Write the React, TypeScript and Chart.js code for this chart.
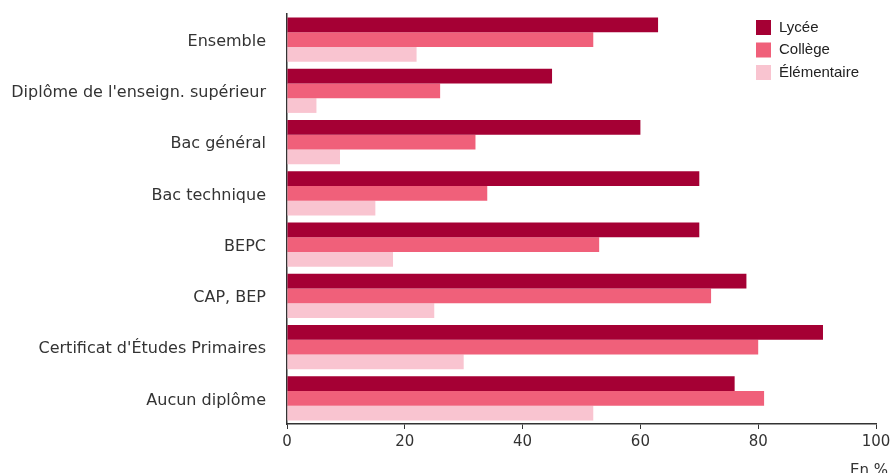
import React, { useEffect, useRef } from "react";
import { Chart, registerables } from "chart.js";

Chart.register(...registerables);

const categories = [
  "Ensemble",
  "Diplôme de l'enseign. supérieur",
  "Bac général",
  "Bac technique",
  "BEPC",
  "CAP, BEP",
  "Certificat d'Études Primaires",
  "Aucun diplôme",
];
const lycee = [63, 45, 60, 70, 70, 78, 91, 76];
const college = [52, 26, 32, 34, 53, 72, 80, 81];
const elementaire = [22, 5, 9, 15, 18, 25, 30, 52];
const seriesNames = ["Lycée", "Collège", "Élémentaire"];
const seriesColors = ["#A50034", "#F0607A", "#F9C4D0"];
const xTicks = [0, 20, 40, 60, 80, 100];
const unitLabel = "En %";

const customLegend = {
  id: "customLegend",
  afterDraw(chart: any) {
    const ctx = chart.ctx;
    ctx.save();
    chart.data.datasets.forEach((ds: any, i: number) => {
      const x = 756;
      const y = 20 + i * 22.5;
      ctx.fillStyle = ds.backgroundColor;
      ctx.fillRect(x, y, 15, 15);
      ctx.fillStyle = "#222";
      ctx.font = "15px 'Liberation Sans', Arial, sans-serif";
      ctx.textBaseline = "middle";
      ctx.textAlign = "left";
      ctx.fillText(ds.label, x + 23, y + 7.5);
    });
    ctx.fillStyle = "#333";
    ctx.font = "15px 'DejaVu Sans', Verdana, sans-serif";
    ctx.textAlign = "left";
    ctx.textBaseline = "alphabetic";
    ctx.fillText(unitLabel, 850, 475);
    ctx.restore();
  },
};

export default function App() {
  const ref = useRef<HTMLCanvasElement | null>(null);
  useEffect(() => {
    if (!ref.current) return;
    const data = [lycee, college, elementaire];
    const chart = new Chart(ref.current, {
      type: "bar",
      data: {
        labels: categories,
        datasets: seriesNames.map((name, i) => ({
          label: name,
          data: data[i],
          backgroundColor: seriesColors[i],
          borderWidth: 0,
          barPercentage: 1,
          categoryPercentage: 0.86,
        })),
      },
      options: {
        indexAxis: "y",
        animation: false,
        responsive: false,
        maintainAspectRatio: false,
        layout: { padding: { top: 14, right: 17, bottom: 0, left: 0 } },
        plugins: {
          legend: { display: false },
          tooltip: { enabled: false },
        },
        scales: {
          x: {
            min: 0,
            max: 100,
            afterBuildTicks: (axis: any) => {
              axis.ticks = xTicks.map((v) => ({ value: v }));
            },
            afterFit: (scale: any) => {
              scale.height = 49;
              scale.paddingLeft = 0;
              scale.paddingRight = 0;
            },
            grid: {
              drawOnChartArea: false,
              drawTicks: true,
              tickLength: 5,
              color: "#333",
            },
            border: { display: true, color: "#333", width: 1.5 },
            ticks: {
              color: "#333",
              padding: 4,
              font: { family: "'DejaVu Sans', Verdana, sans-serif", size: 15 },
            },
          },
          y: {
            afterFit: (scale: any) => {
              scale.width = 287;
              scale.paddingTop = 0;
              scale.paddingBottom = 0;
            },
            grid: { drawOnChartArea: false, drawTicks: false },
            border: { display: true, color: "#333", width: 1.5 },
            ticks: {
              color: "#333",
              padding: 21,
              labelOffset: 2,
              font: { family: "'DejaVu Sans', Verdana, sans-serif", size: 16 },
            },
          },
        },
      },
      plugins: [customLegend],
    });
    return () => chart.destroy();
  }, []);
  return (
    <div style={{ position: "fixed", left: 0, top: 0, width: 893, height: 473 }}>
      <canvas ref={ref} width={893} height={473} style={{ width: 893, height: 473 }} />
    </div>
  );
}
